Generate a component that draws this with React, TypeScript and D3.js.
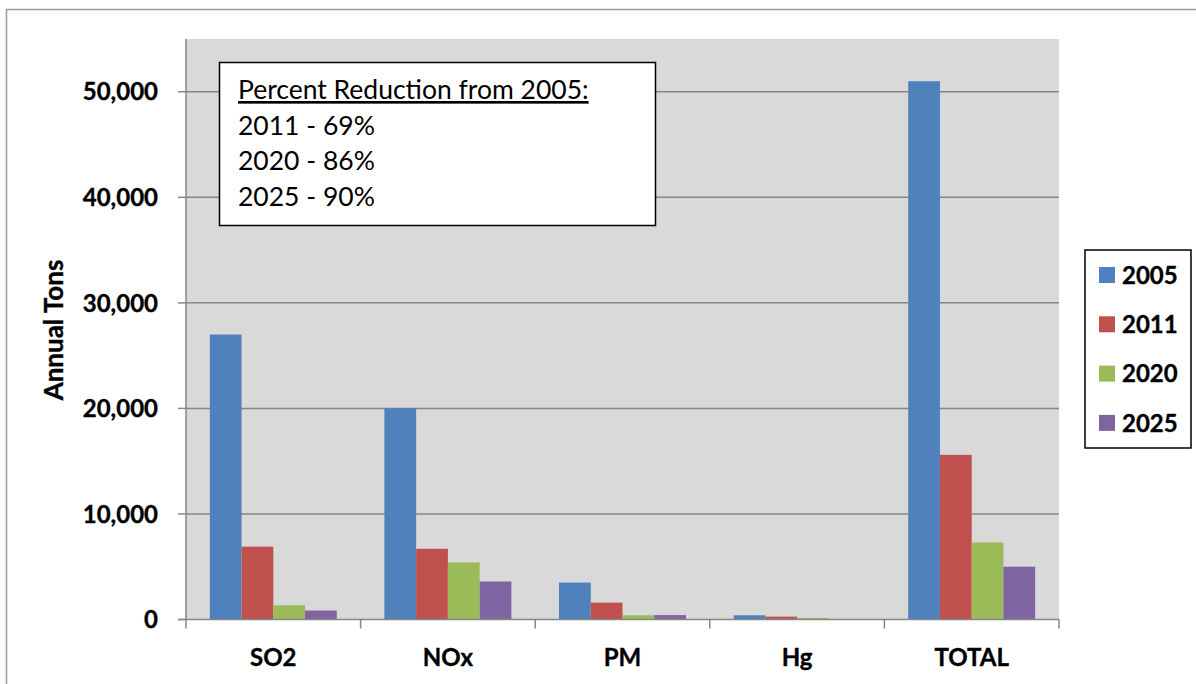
import React from 'react';
import * as d3 from 'd3';

const categories = ['SO2', 'NOx', 'PM', 'Hg', 'TOTAL'];
const years = ['2005', '2011', '2020', '2025'];
const values2005 = [27000, 20000, 3500, 400, 51000];
const values2011 = [6900, 6700, 1600, 270, 15600];
const values2020 = [1350, 5400, 400, 150, 7300];
const values2025 = [850, 3600, 420, 0, 5000];
const yTicks = [0, 10000, 20000, 30000, 40000, 50000];
const noteLines = ['Percent Reduction from 2005:', '2011 - 69%', '2020 - 86%', '2025 - 90%'];
const colors = ['#4F81BD', '#C0504D', '#9BBB59', '#8064A2'];

const series = [values2005, values2011, values2020, values2025];

const W = 1196;
const H = 684;
const plot = { left: 186, right: 1059, top: 39, bottom: 619.5 };
const FONT = 'Lato, "Open Sans", sans-serif';

const App: React.FC = () => {
  const x0 = d3.scaleBand<string>()
    .domain(categories)
    .range([plot.left, plot.right]);

  // Excel-style gap width of 150% between groups
  const bw = x0.bandwidth() / 5.5;
  const x1 = d3.scaleBand<string>()
    .domain(years)
    .range([bw * 0.75, x0.bandwidth() - bw * 0.75]);

  const y = d3.scaleLinear().domain([0, 55000]).range([plot.bottom, plot.top]);
  const fmt = d3.format(',');

  const boundaries = [...categories.map(c => x0(c) as number), plot.right];
  const bold = { fontFamily: FONT, fontWeight: 'bold' as const, fill: '#000', stroke: '#000', strokeWidth: 0.35 };

  return (
    <svg width={W} height={H} style={{ position: 'absolute', left: 0, top: 0, background: '#fff' }}>
      {/* outer chart border */}
      <rect x={6.5} y={9.5} width={W} height={H} fill="#fff" stroke="#9a9a9a" strokeWidth={1.5} />

      {/* plot area */}
      <rect x={plot.left} y={plot.top} width={plot.right - plot.left} height={plot.bottom - plot.top} fill="#D9D9D9" />

      {/* gridlines */}
      {yTicks.filter(t => t > 0).map(t => (
        <line key={t} x1={plot.left} x2={plot.right} y1={y(t)} y2={y(t)} stroke="#868686" strokeWidth={1.5} />
      ))}

      {/* bars */}
      {categories.map((c, ci) => (
        <g key={c} transform={`translate(${x0(c)},0)`}>
          {years.map((yr, si) => {
            const v = series[si][ci];
            return (
              <rect
                key={yr}
                x={x1(yr)}
                y={y(v)}
                width={x1.bandwidth()}
                height={plot.bottom - y(v)}
                fill={colors[si]}
              />
            );
          })}
        </g>
      ))}

      {/* y axis */}
      <line x1={plot.left} x2={plot.left} y1={plot.top} y2={plot.bottom} stroke="#868686" strokeWidth={1.5} />
      {yTicks.map(t => (
        <g key={t}>
          <line x1={178} x2={plot.left} y1={y(t)} y2={y(t)} stroke="#868686" strokeWidth={1.5} />
          <text x={158} y={y(t)} dy="0.36em" textAnchor="end" fontSize={24} {...bold}>
            {fmt(t)}
          </text>
        </g>
      ))}

      {/* x axis */}
      <line x1={plot.left - 8} x2={plot.right} y1={plot.bottom} y2={plot.bottom} stroke="#868686" strokeWidth={1.5} />
      {boundaries.map((b, i) => (
        <line key={i} x1={b} x2={b} y1={plot.bottom} y2={plot.bottom + 9} stroke="#868686" strokeWidth={1.5} />
      ))}
      {categories.map(c => (
        <text key={c} x={(x0(c) as number) + x0.bandwidth() / 2} y={666} textAnchor="middle" fontSize={24} {...bold}>
          {c}
        </text>
      ))}

      {/* y axis title */}
      <text transform="translate(63,330) rotate(-90)" textAnchor="middle" fontSize={26} {...bold}>
        Annual Tons
      </text>

      {/* note box */}
      <rect x={219.5} y={62.5} width={436} height={163} fill="#fff" stroke="#000" strokeWidth={1.5} />
      {noteLines.map((l, i) => (
        <text key={i} x={238} y={99 + i * 35.5} fontFamily={FONT} fontSize={26.5} fill="#000"
          textDecoration={i === 0 ? 'underline' : undefined}>
          {l}
        </text>
      ))}

      {/* legend */}
      <rect x={1085} y={250} width={106} height={198} fill="#fff" stroke="#000" strokeWidth={1.5} />
      {years.map((yr, i) => (
        <g key={yr} transform={`translate(0,${275 + i * 49.3})`}>
          <rect x={1099} y={-8} width={16} height={16} fill={colors[i]} />
          <text x={1122} y={0} dy="0.36em" fontSize={24} {...bold}>
            {yr}
          </text>
        </g>
      ))}
    </svg>
  );
};

export default App;
